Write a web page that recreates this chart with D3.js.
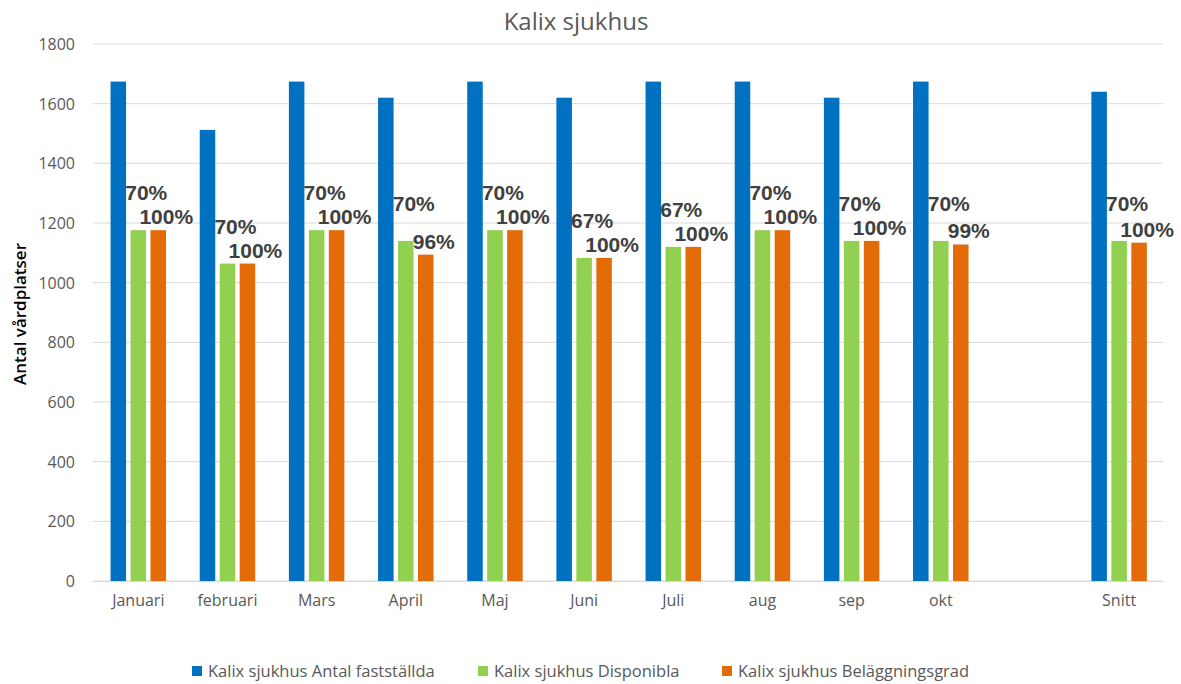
<!DOCTYPE html>
<html lang="sv">
<head>
<meta charset="utf-8">
<script src="https://cdn.jsdelivr.net/npm/d3@7"></script>
<style>
  body { margin: 0; background: white; }
  svg { font-family: 'Open Sans', sans-serif; }
  .grid line { stroke: #d9d9d9; }
  .tick text { fill: #595959; }
  .lbl { font-family: 'Liberation Sans', sans-serif; font-weight: bold; fill: #404040; }
</style>
</head>
<body>
<svg width="1181" height="684"></svg>
<script>
// data
var months = ["Januari", "februari", "Mars", "April", "Maj", "Juni", "Juli", "aug", "sep", "okt", "", "Snitt"];
var antal   = [1674, 1512, 1674, 1620, 1674, 1620, 1674, 1674, 1620, 1674, null, 1640];
var dispon  = [1176, 1064, 1176, 1140, 1176, 1083, 1120, 1176, 1140, 1140, null, 1140];
var belagg  = [1176, 1064, 1176, 1094, 1176, 1083, 1120, 1176, 1140, 1128, null, 1134];
var disponPct = [70, 70, 70, 70, 70, 67, 67, 70, 70, 70, null, 70];
var belaggPct = [100, 100, 100, 96, 100, 100, 100, 100, 100, 99, null, 100];
var seriesNames = ["Kalix sjukhus Antal fastställda", "Kalix sjukhus Disponibla", "Kalix sjukhus Beläggningsgrad"];
var colors = ["#0070c0", "#92d050", "#e36c09"];
var yTicks = [0, 200, 400, 600, 800, 1000, 1200, 1400, 1600, 1800];

var svg = d3.select("svg");
var plotL = 93, plotR = 1163, plotT = 44, plotB = 581;

var x = d3.scaleBand().domain(d3.range(months.length)).range([plotL + 0.7, plotR + 0.7]);
var y = d3.scaleLinear().domain([0, 1800]).range([plotB, plotT]);

var bw = x.bandwidth() * 0.174, step = x.bandwidth() * 0.224;

// gridlines
svg.append("g").attr("class", "grid")
  .selectAll("line").data(yTicks).enter().append("line")
  .attr("x1", plotL).attr("x2", plotR)
  .attr("y1", d => y(d)).attr("y2", d => y(d));

// y axis labels
var yAxis = svg.append("g").attr("transform", "translate(" + (plotL - 15) + ",0)")
  .call(d3.axisLeft(y).tickValues(yTicks).tickSize(0).tickFormat(d3.format("d")));
yAxis.attr("font-family", null).attr("font-size", null);
yAxis.select(".domain").remove();
yAxis.selectAll("text").style("font-size", "16px").attr("dy", "0.35em");

// x axis labels
var xAxis = svg.append("g").attr("transform", "translate(0," + plotB + ")")
  .call(d3.axisBottom(x).tickSize(0).tickFormat(i => months[i]));
xAxis.attr("font-family", null).attr("font-size", null);
xAxis.select(".domain").attr("stroke", "#d9d9d9").attr("d", "M" + plotL + ",0.5H" + plotR);
xAxis.selectAll("text").style("font-size", "16px").attr("dy", "1.4em");

var series = [antal, dispon, belagg];
series.forEach(function(vals, s) {
  svg.append("g").selectAll("rect")
    .data(vals.map((v, i) => ({ v: v, i: i })).filter(d => d.v != null))
    .enter().append("rect")
    .attr("x", d => x(d.i) + x.bandwidth() / 2 - bw / 2 + (s - 1) * step)
    .attr("y", d => y(d.v))
    .attr("width", bw)
    .attr("height", d => y(0) - y(d.v))
    .attr("fill", colors[s]);
});

// data labels
function addLabels(vals, pcts, s, lift) {
  svg.append("g").selectAll("text")
    .data(vals.map((v, i) => ({ v: v, p: pcts[i], i: i })).filter(d => d.v != null))
    .enter().append("text")
    .attr("class", "lbl")
    .attr("x", d => x(d.i) + x.bandwidth() / 2 + (s - 1) * step + 8)
    .attr("y", d => y(d.v) - lift)
    .attr("text-anchor", "middle")
    .style("font-size", "21px")
    .text(d => d.p + "%");
}
addLabels(dispon, disponPct, 1, 30);
addLabels(belagg, belaggPct, 2, 6);

// title
svg.append("text").attr("x", 576).attr("y", 30)
  .attr("text-anchor", "middle").style("font-size", "24px").attr("fill", "#595959")
  .text("Kalix sjukhus");

// y axis title
svg.append("text").attr("transform", "translate(26,314) rotate(-90)")
  .attr("text-anchor", "middle").style("font-size", "17px").style("font-weight", "600")
  .attr("fill", "#000")
  .text("Antal vårdplatser");

// legend
var legX = [192, 478, 722];
var leg = svg.append("g").selectAll("g").data(seriesNames).enter().append("g")
  .attr("transform", (d, i) => "translate(" + legX[i] + ",671)");
leg.append("rect").attr("x", 0).attr("y", -5).attr("width", 10).attr("height", 10)
  .attr("fill", (d, i) => colors[i]);
leg.append("text").attr("x", 16).attr("dy", "0.35em")
  .style("font-size", "16.5px").attr("fill", "#595959").text(d => d);
</script>
</body>
</html>
